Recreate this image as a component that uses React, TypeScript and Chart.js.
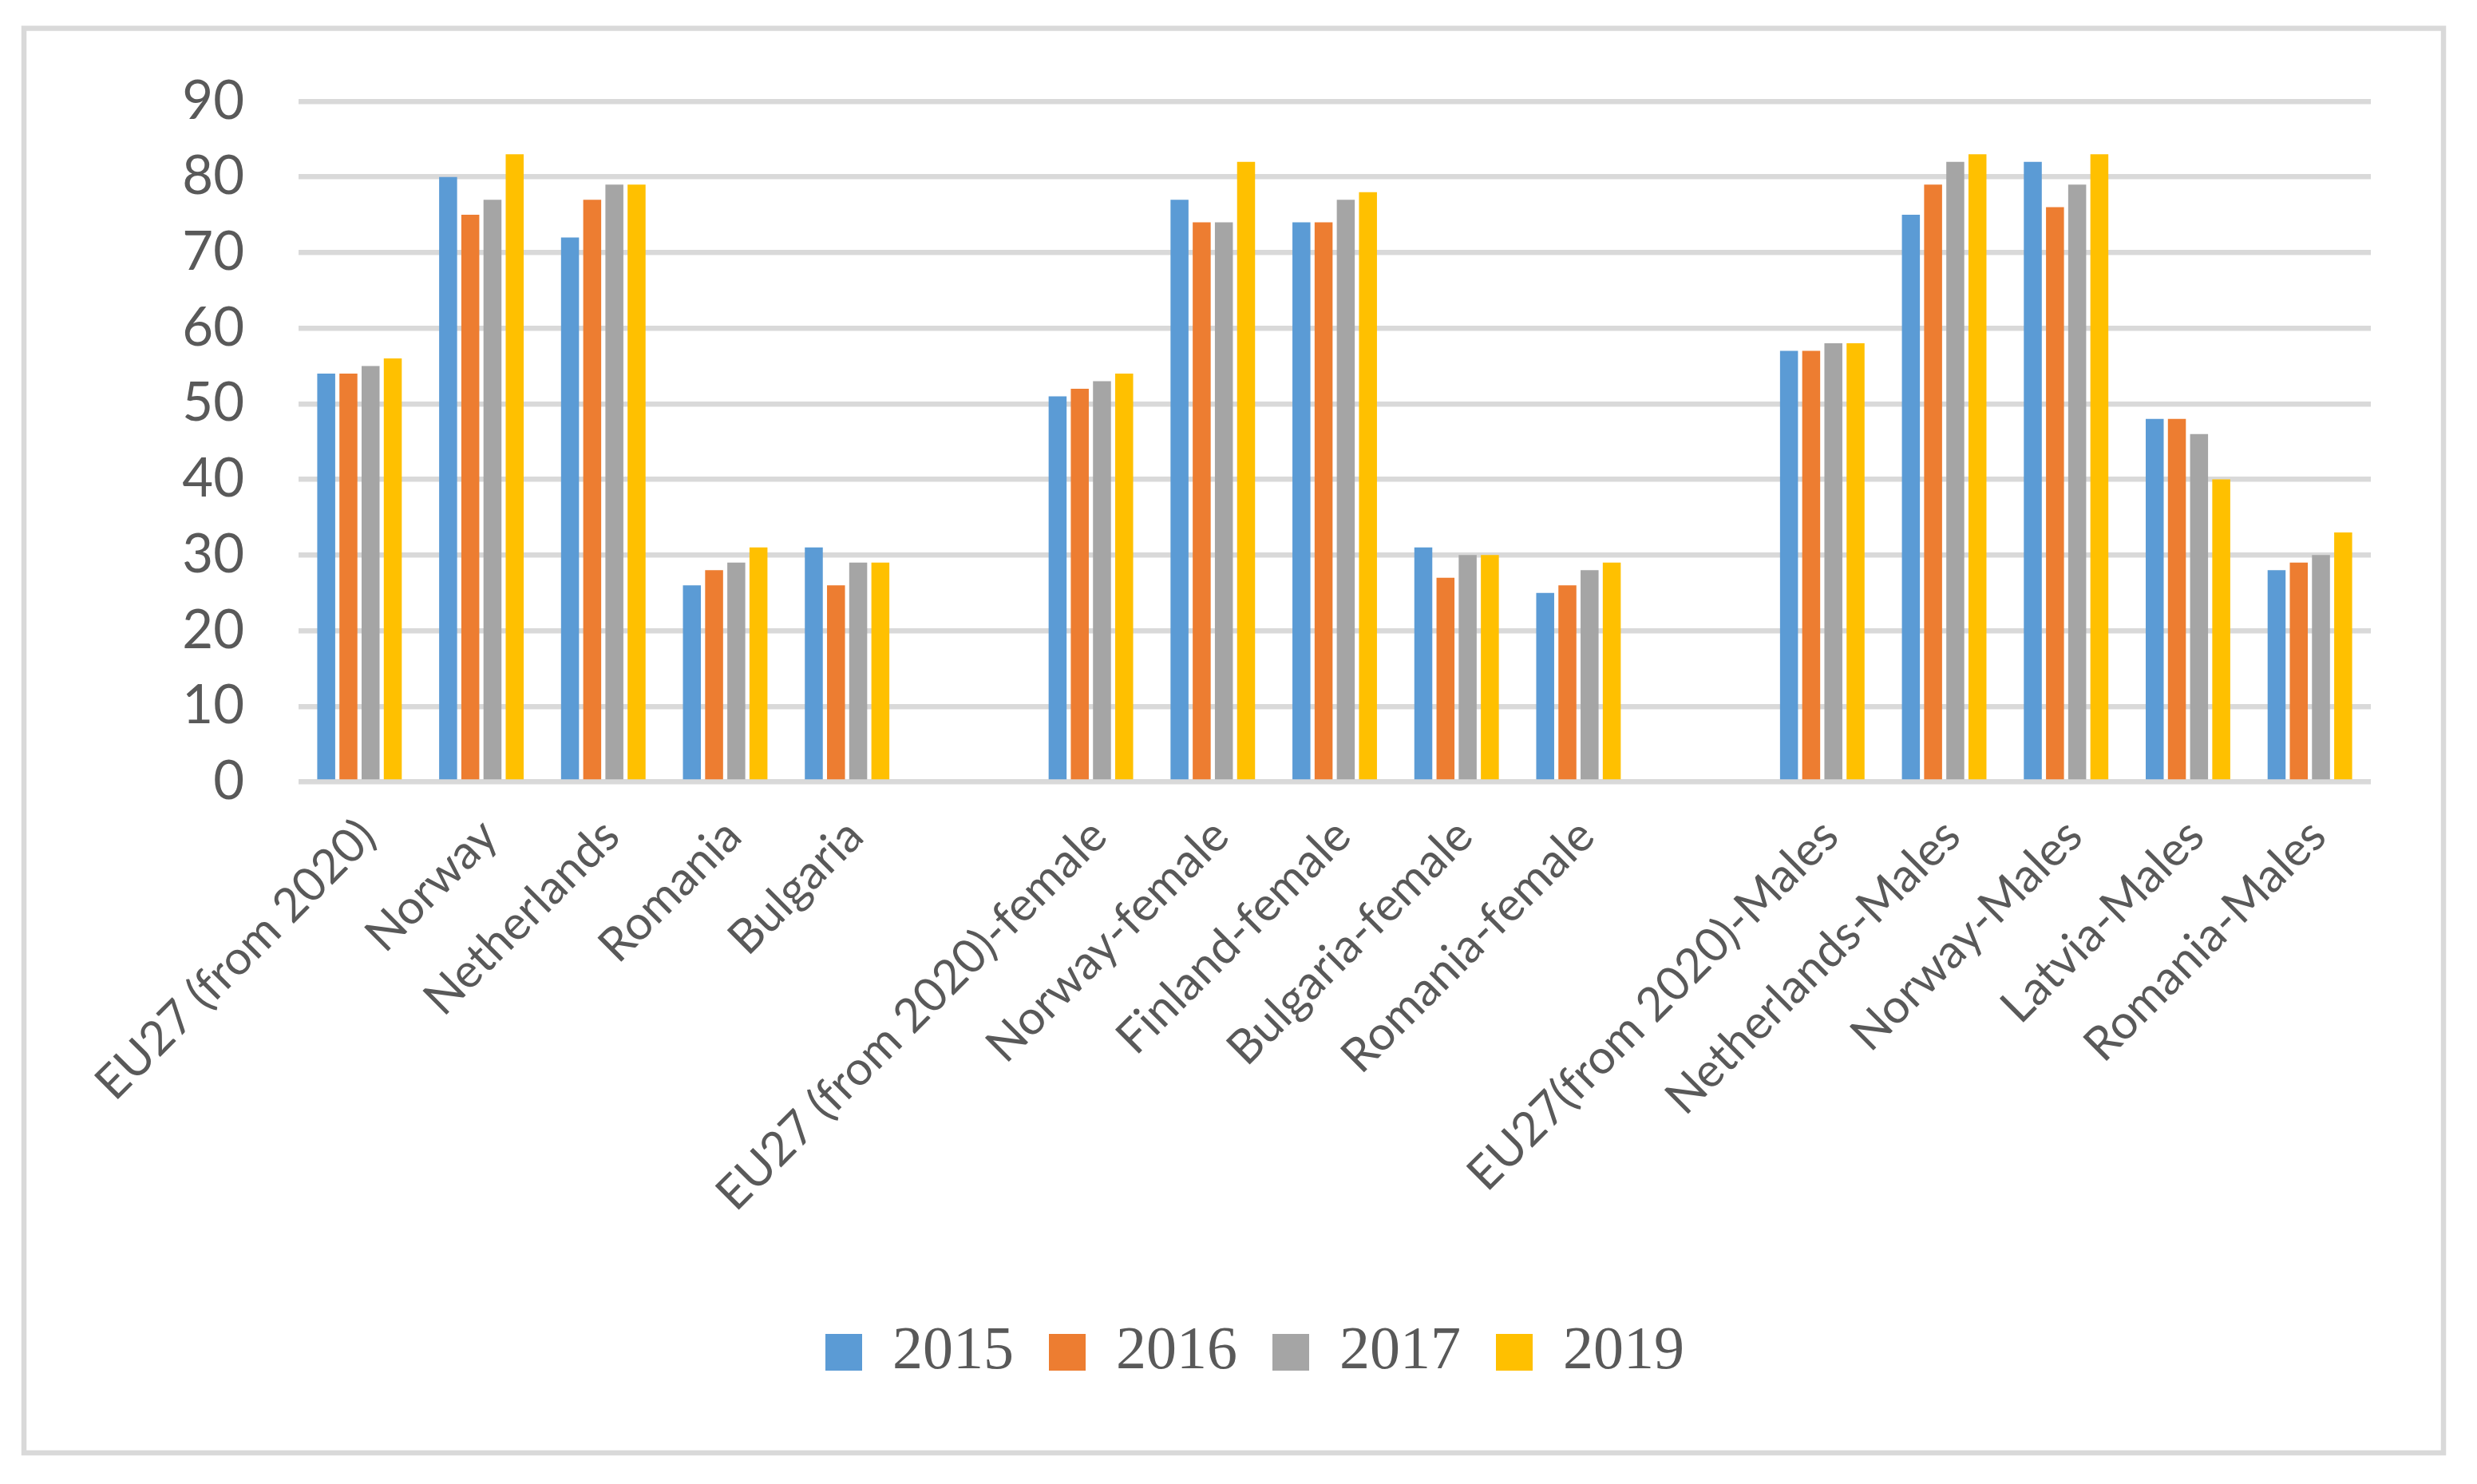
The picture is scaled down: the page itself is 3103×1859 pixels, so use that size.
import { useEffect, useRef } from "react";
import { Chart, registerables } from "chart.js";

Chart.register(...registerables);

const categories = [
  "EU27 (from 2020)",
  "Norway",
  "Netherlands",
  "Romania",
  "Bulgaria",
  "",
  "EU27 (from 2020)-female",
  "Norway-female",
  "Finland-female",
  "Bulgaria-female",
  "Romania-female",
  "",
  "EU27(from 2020)-Males",
  "Netherlands-Males",
  "Norway-Males",
  "Latvia-Males",
  "Romania-Males",
];

const v2015 = [54, 80, 72, 26, 31, null, 51, 77, 74, 31, 25, null, 57, 75, 82, 48, 28];
const v2016 = [54, 75, 77, 28, 26, null, 52, 74, 74, 27, 26, null, 57, 79, 76, 48, 29];
const v2017 = [55, 77, 79, 29, 29, null, 53, 74, 77, 30, 28, null, 58, 82, 79, 46, 30];
const v2019 = [56, 83, 79, 31, 29, null, 54, 82, 78, 30, 29, null, 58, 83, 83, 40, 33];

const seriesNames = ["2015", "2016", "2017", "2019"];
const seriesColors = ["#5B9BD5", "#ED7D31", "#A5A5A5", "#FFC000"];

const W = 3103;
const H = 1859;

// outer grey frame like the Excel chart border
const framePlugin = {
  id: "frame",
  beforeDraw: (c: any) => {
    const { ctx } = c;
    ctx.save();
    ctx.fillStyle = "#FFFFFF";
    ctx.fillRect(0, 0, W, H);
    ctx.strokeStyle = "#D9D9D9";
    ctx.lineWidth = 6.5;
    ctx.strokeRect(30, 35.5, 3031, 1784.5);
    ctx.restore();
  },
};

export default function App() {
  const canvasRef = useRef<HTMLCanvasElement | null>(null);

  useEffect(() => {
    const el = canvasRef.current;
    if (!el) return;
    const all = [v2015, v2016, v2017, v2019];

    const c = new Chart(el, {
      type: "bar",
      data: {
        labels: categories,
        datasets: all.map((d, i) => ({
          label: seriesNames[i],
          data: d,
          backgroundColor: seriesColors[i],
          borderWidth: 0,
          categoryPercentage: 0.728,
          barPercentage: 0.81,
        })),
      },
      options: {
        responsive: true,
        maintainAspectRatio: false,
        animation: false,
        devicePixelRatio: 1,
        layout: { padding: { left: 174, right: 133, top: 127, bottom: 117 } },
        plugins: {
          tooltip: { enabled: false },
          legend: {
            position: "bottom",
            labels: {
              boxWidth: 46,
              boxHeight: 46,
              padding: 44,
              color: "#595959",
              font: { family: "'Liberation Serif', serif", size: 76 },
            },
          },
        },
        scales: {
          x: {
            grid: { display: false },
            border: { display: false },
            ticks: {
              autoSkip: false,
              minRotation: 45,
              maxRotation: 45,
              padding: 25,
              labelOffset: 10,
              color: "#595959",
              font: { family: "Lato, sans-serif", size: 59 },
            },
            afterFit: (s: any) => {
              s.height = 632.5;
            },
          },
          y: {
            min: 0,
            max: 90,
            border: { display: false },
            grid: { color: "#D9D9D9", lineWidth: 6.5, drawTicks: false },
            ticks: {
              stepSize: 10,
              padding: 68,
              color: "#595959",
              font: { family: "Lato, sans-serif", size: 67 },
            },
            afterFit: (s: any) => {
              s.width = 200;
            },
          },
        },
      },
      plugins: [framePlugin],
    });

    return () => c.destroy();
  }, []);

  return (
    <div style={{ position: "absolute", left: 0, top: 0, width: W, height: H, overflow: "hidden" }}>
      <canvas ref={canvasRef} />
    </div>
  );
}
